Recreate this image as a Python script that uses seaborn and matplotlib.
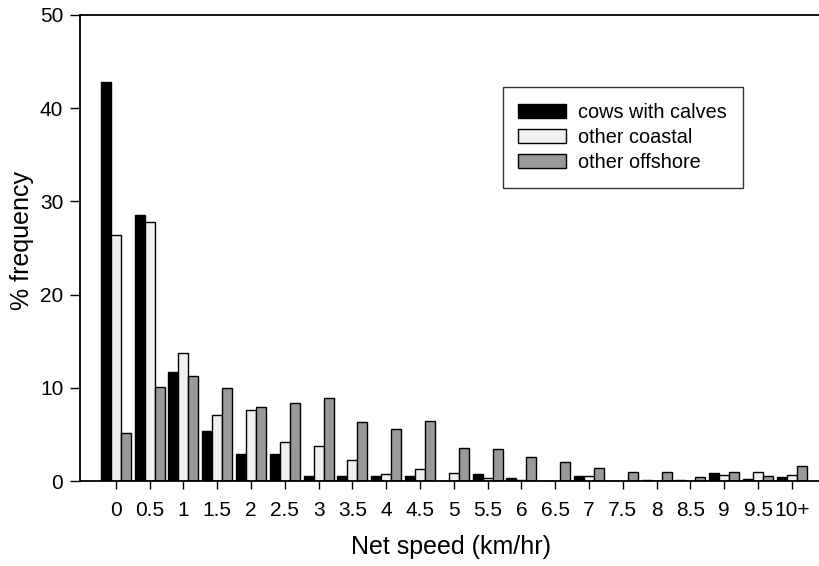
import pandas as pd
import numpy as np
import seaborn as sns
import matplotlib
matplotlib.use('Agg')
import matplotlib.pyplot as plt

# speed classes (km/hr)
speeds = ['0', '0.5', '1', '1.5', '2', '2.5', '3', '3.5', '4', '4.5', '5',
          '5.5', '6', '6.5', '7', '7.5', '8', '8.5', '9', '9.5', '10+']

# % frequency
cows = [42.8, 28.5, 11.7, 5.4, 2.9, 2.9, 0.5, 0.5, 0.6, 0.6, 0.0,
        0.8, 0.3, 0.05, 0.6, 0.0, 0.15, 0.15, 0.85, 0.2, 0.4]
coastal = [26.4, 27.8, 13.7, 7.1, 7.6, 4.2, 3.8, 2.3, 0.8, 1.3, 0.9,
           0.3, 0.1, 0.0, 0.5, 0.0, 0.05, 0.0, 0.7, 1.0, 0.65]
offshore = [5.2, 10.1, 11.3, 10.0, 7.9, 8.4, 8.9, 6.35, 5.6, 6.4, 3.6,
            3.4, 2.6, 2.1, 1.4, 1.0, 1.0, 0.47, 0.97, 0.54, 1.57]

groups = ['cows with calves', 'other coastal', 'other offshore']
colors = ['#000000', '#f0f0f0', '#999999']

df = pd.DataFrame({
    'speed': speeds * 3,
    'freq': cows + coastal + offshore,
    'group': [groups[0]] * len(speeds) + [groups[1]] * len(speeds) + [groups[2]] * len(speeds),
})

sns.set_style('ticks')
plt.rcParams['font.family'] = ['Liberation Sans', 'DejaVu Sans']
plt.rcParams['text.color'] = 'black'
plt.rcParams['axes.labelcolor'] = 'black'
plt.rcParams['xtick.color'] = 'black'
plt.rcParams['ytick.color'] = 'black'

fig = plt.figure(figsize=(8.19, 5.66), dpi=100)
ax = fig.add_axes([0.0977, 0.150, 0.905, 0.8235])

sns.barplot(data=df, x='speed', y='freq', hue='group', order=speeds,
            hue_order=groups, palette=colors, edgecolor='black',
            linewidth=1.0, width=0.89, ax=ax)

ax.set_xlim(-1.06, 20.87)
ax.set_ylim(0, 50)
ax.set_yticks([0, 10, 20, 30, 40, 50])
ax.set_xlabel('Net speed (km/hr)', fontsize=18, labelpad=11)
ax.set_ylabel('% frequency', fontsize=18)
ax.yaxis.set_label_coords(-0.062, 0.517)
ax.tick_params(axis='both', labelsize=15, direction='out', color='black',
               labelcolor='black', width=1.0)
ax.tick_params(axis='y', length=7, left=True, pad=5)
ax.tick_params(axis='x', length=6, bottom=True, pad=8)

for side in ['left', 'bottom', 'top']:
    ax.spines[side].set_visible(True)
    ax.spines[side].set_color('black')
    ax.spines[side].set_linewidth(1.3)
ax.spines['right'].set_visible(False)

leg = ax.legend(loc='upper right', bbox_to_anchor=(0.894, 0.845), fontsize=14.3,
                frameon=True, fancybox=False, edgecolor='black',
                handlelength=2.4, handleheight=0.7, borderpad=0.8,
                labelspacing=0.3, handletextpad=0.6, borderaxespad=0)
leg.get_frame().set_linewidth(1.0)

fig.savefig('out.png', dpi=100)
